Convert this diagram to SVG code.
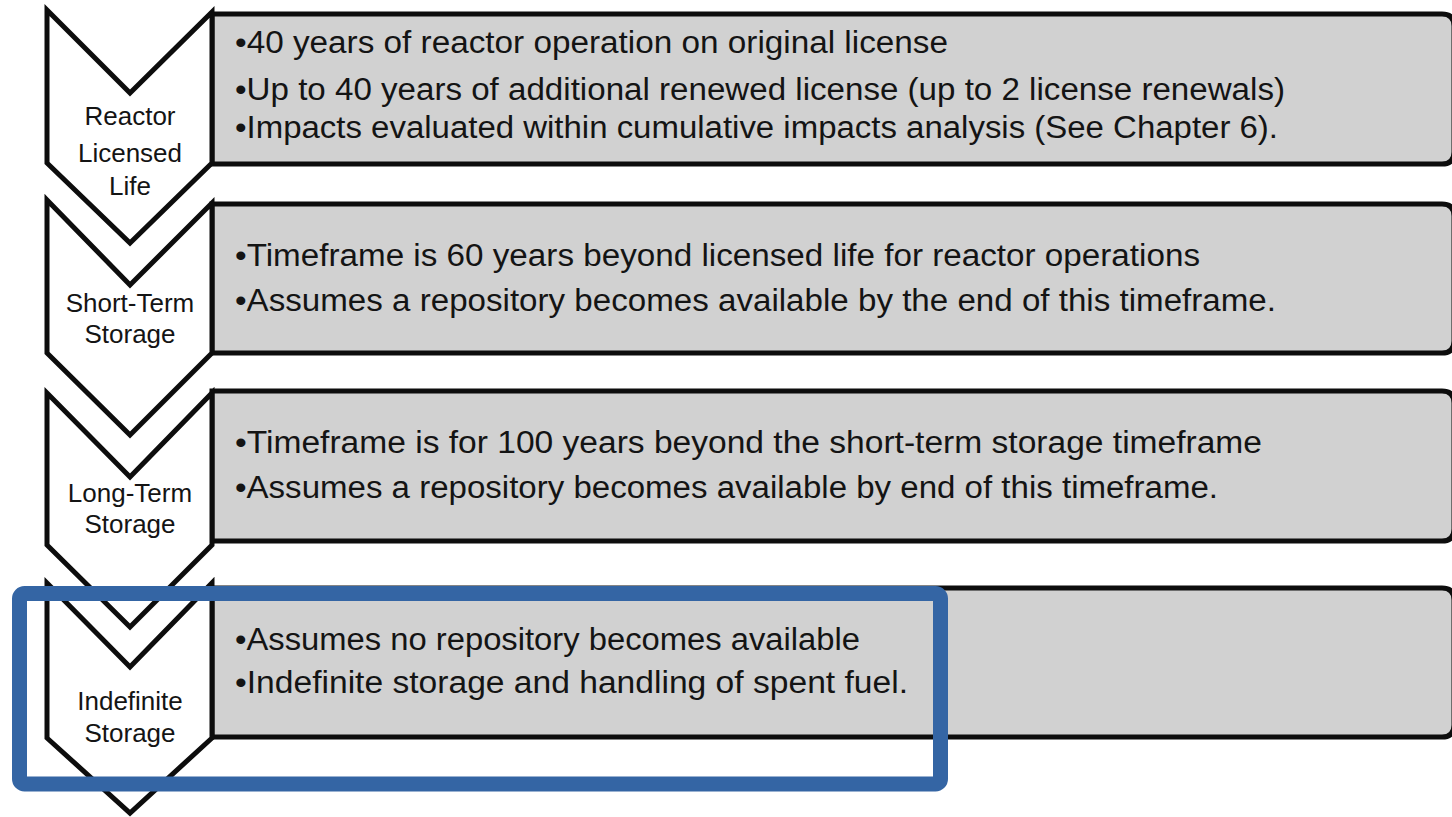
<svg xmlns="http://www.w3.org/2000/svg" width="1452" height="817" viewBox="0 0 1452 817">
  <style>
    .chev { fill: #ffffff; stroke: #0d0d0d; stroke-width: 5; stroke-linejoin: miter; }
    .box { fill: #d1d1d1; stroke: #0d0d0d; stroke-width: 5; }
    .lbl { font-family: "Liberation Sans", Arial, sans-serif; font-size: 26px; fill: #141414; text-anchor: middle; }
    .txt { font-family: "Liberation Sans", Arial, sans-serif; font-size: 31px; fill: #141414; }
    .hl { fill: none; stroke: #3465a4; stroke-width: 15; }
  </style>

  <!-- Stage 1 -->
  <g id="stage-reactor-licensed-life">
    <path class="box" d="M212,14 H1442 Q1454,14 1454,26 V152 Q1454,164 1442,164 H212 Z"/>
    <polygon class="chev" points="47,10 130,93 212,12 212,163 130,243 47,163"/>
    <text class="lbl" x="130" y="125">Reactor</text>
    <text class="lbl" x="130" y="162">Licensed</text>
    <text class="lbl" x="130" y="195">Life</text>
    <text class="txt" x="235" y="53" textLength="713" lengthAdjust="spacingAndGlyphs">•40 years of reactor operation on original license</text>
    <text class="txt" x="235" y="100" textLength="1050" lengthAdjust="spacingAndGlyphs">•Up to 40 years of additional renewed license (up to 2 license renewals)</text>
    <text class="txt" x="235" y="138" textLength="1043" lengthAdjust="spacingAndGlyphs">•Impacts evaluated within cumulative impacts analysis (See Chapter 6).</text>
  </g>

  <!-- Stage 2 -->
  <g id="stage-short-term-storage">
    <path class="box" d="M212,204 H1442 Q1454,204 1454,216 V341 Q1454,353 1442,353 H212 Z"/>
    <polygon class="chev" points="47,200 130,285 212,203 212,353 130,435 47,353"/>
    <text class="lbl" x="130" y="312">Short-Term</text>
    <text class="lbl" x="130" y="343">Storage</text>
    <text class="txt" x="235" y="266" textLength="965" lengthAdjust="spacingAndGlyphs">•Timeframe is 60 years beyond licensed life for reactor operations</text>
    <text class="txt" x="235" y="311" textLength="1041" lengthAdjust="spacingAndGlyphs">•Assumes a repository becomes available by the end of this timeframe.</text>
  </g>

  <!-- Stage 3 -->
  <g id="stage-long-term-storage">
    <path class="box" d="M212,391 H1442 Q1454,391 1454,403 V529 Q1454,541 1442,541 H212 Z"/>
    <polygon class="chev" points="47,393 130,477 212,393 212,545 130,627 47,545"/>
    <text class="lbl" x="130" y="502">Long-Term</text>
    <text class="lbl" x="130" y="533">Storage</text>
    <text class="txt" x="235" y="453" textLength="1027" lengthAdjust="spacingAndGlyphs">•Timeframe is for 100 years beyond the short-term storage timeframe</text>
    <text class="txt" x="235" y="498" textLength="983" lengthAdjust="spacingAndGlyphs">•Assumes a repository becomes available by end of this timeframe.</text>
  </g>

  <!-- Stage 4 -->
  <g id="stage-indefinite-storage">
    <path class="box" d="M212,588 H1442 Q1454,588 1454,600 V725 Q1454,737 1442,737 H212 Z"/>
    <polygon class="chev" points="47,583 130,667 212,583 212,738 130,813 47,738"/>
    <text class="lbl" x="130" y="710">Indefinite</text>
    <text class="lbl" x="130" y="742">Storage</text>
    <text class="txt" x="235" y="650" textLength="625" lengthAdjust="spacingAndGlyphs">•Assumes no repository becomes available</text>
    <text class="txt" x="235" y="693" textLength="673" lengthAdjust="spacingAndGlyphs">•Indefinite storage and handling of spent fuel.</text>
  </g>

  <!-- Highlight frame around the last stage -->
  <g id="highlight">
    <rect class="hl" x="19.5" y="593.5" width="921" height="190.5" rx="5"/>
  </g>
</svg>
